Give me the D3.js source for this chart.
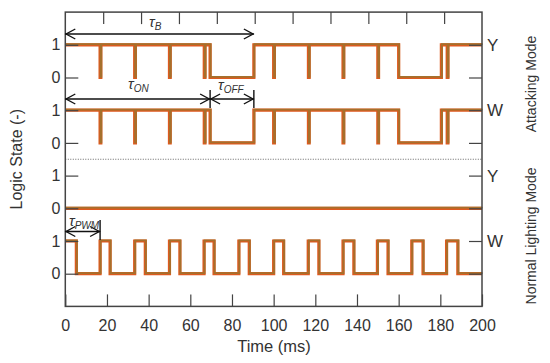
<!DOCTYPE html>
<html>
<head>
<meta charset="utf-8">
<script src="https://cdn.jsdelivr.net/npm/d3@7"></script>
<style>
  html, body { margin: 0; padding: 0; background: #fff; }
  svg { display: block; font-family: "Liberation Sans", Arial, sans-serif; }
</style>
</head>
<body>
<svg id="chart" width="550" height="363"></svg>
<script>
// ---------- data ----------
const timeTicks = [0, 20, 40, 60, 80, 100, 120, 140, 160, 180, 200];
const topTicks = [20, 40, 60, 80, 100, 120, 140, 160, 180, 200];   // top frame ticks (11 divisions)
const leftLevels = [0, 1, 2, 3, 4, 5, 6, 7];
const leftLabels = ["0", "1", "0", "1", "0", "1", "0", "1"];
const rightLevels = [0, 1, 2, 3, 4, 5, 6, 7];
const rightLabels = ["", "W", "", "Y", "", "W", "", "Y"];

// Attacking mode: LED on intervals (ms) and short PWM dips (ms)
const attackOnIntervals = [[0, 69.5], [90.5, 160], [180.5, 200]];
const attackDips = [16.7, 33.3, 50, 66.7, 100, 116.7, 133.3, 150, 183.3];
const dipWidth = 0.35;

// Normal lighting mode: W PWM high intervals (ms), Y always off
const normalWHigh = [[0, 5.3], [16.7, 21.5], [33.3, 38.4], [50, 55], [66.6, 71.4], [83.3, 88.3],
                     [100, 104.8], [116.6, 121.7], [133.3, 138.5], [149.8, 154.9], [166.3, 171.7], [183, 188.4]];
const normalYHigh = [];

// ---------- layout ----------
const svg = d3.select("#chart");
const x = d3.scaleLinear().domain([0, 200]).range([65.3, 482]);
const xTop = d3.scaleLinear().domain([0, 220]).range([65.3, 482]);
const y = d3.scaleLinear().domain([-1, 8]).range([306.4, 12.1]);
const textColor = "#333";
const axisColor = "#444";

// ---------- signal builders ----------
function transitionsFrom(intervals, dips, base) {
  const tr = [];
  intervals.forEach(([a, b]) => { tr.push([a, 1]); if (b < 200) tr.push([b, 0]); });
  dips.forEach(t => { tr.push([t, 0]); tr.push([t + dipWidth, 1]); });
  tr.sort((p, q) => p[0] - q[0]);
  if (!tr.length || tr[0][0] > 0) tr.unshift([0, 0]);
  tr.push([200, tr[tr.length - 1][1]]);
  return tr.map(([t, v]) => [t, base + v]);
}

const signals = [
  transitionsFrom(attackOnIntervals, attackDips, 6),
  transitionsFrom(attackOnIntervals, attackDips, 4),
  transitionsFrom(normalYHigh, [], 2),
  transitionsFrom(normalWHigh, [], 0)
];

const line = d3.line().x(d => x(d[0])).y(d => y(d[1])).curve(d3.curveStepAfter);

// ---------- separator ----------
svg.append("line")
  .attr("x1", x(0)).attr("x2", x(200))
  .attr("y1", y(3.5)).attr("y2", y(3.5))
  .attr("stroke", "#666").attr("stroke-width", 1)
  .attr("stroke-dasharray", "1,1.5");

// ---------- signals ----------
const gSig = svg.append("g");
signals.forEach(s => {
  gSig.append("path").attr("d", line(s))
    .attr("fill", "none").attr("stroke", "#de5a1f").attr("stroke-width", 3.2)
    .attr("stroke-linejoin", "miter");
  gSig.append("path").attr("d", line(s))
    .attr("transform", "translate(0.5,-0.6)")
    .attr("fill", "none").attr("stroke", "#a5702c").attr("stroke-width", 1.8)
    .attr("stroke-linejoin", "miter");
});

// ---------- axes ----------
function styleAxis(g) {
  g.select(".domain").remove();
  g.selectAll(".tick line").attr("stroke", axisColor).attr("stroke-width", 1.2);
  g.selectAll(".tick text").attr("fill", textColor).style("font-size", "16px");
}

svg.append("g").attr("transform", `translate(0,${y(-1)})`)
  .call(d3.axisBottom(x).tickValues(timeTicks).tickSizeInner(-12).tickSizeOuter(0).tickPadding(13))
  .call(styleAxis)
  .call(g => g.selectAll(".tick text").attr("dy", "0.71em"));

svg.append("g").attr("transform", `translate(0,${y(8)})`)
  .call(d3.axisTop(xTop).tickValues(topTicks).tickSizeInner(-12).tickSizeOuter(0).tickFormat(""))
  .call(styleAxis);

svg.append("g").attr("transform", `translate(${x(0)},0)`)
  .call(d3.axisLeft(y).tickValues(leftLevels).tickSizeInner(-13).tickSizeOuter(0).tickPadding(5)
    .tickFormat((d, i) => leftLabels[i]))
  .call(styleAxis);

svg.append("g").attr("transform", `translate(${x(200)},0)`)
  .call(d3.axisRight(y).tickValues(rightLevels).tickSizeInner(-13).tickSizeOuter(0).tickPadding(5)
    .tickFormat((d, i) => rightLabels[i]))
  .call(styleAxis)
  .call(g => g.selectAll(".tick text").style("font-size", "17px"));

// frame
svg.append("rect")
  .attr("x", x(0)).attr("y", y(8))
  .attr("width", x(200) - x(0)).attr("height", y(-1) - y(8))
  .attr("fill", "none").attr("stroke", axisColor).attr("stroke-width", 1.5);

// ---------- axis titles ----------
svg.append("text").attr("x", 274).attr("y", 352).attr("text-anchor", "middle")
  .attr("fill", textColor).style("font-size", "16.5px").text("Time (ms)");

svg.append("text").attr("transform", `translate(22,${y(3.5)}) rotate(-90)`)
  .attr("text-anchor", "middle").attr("fill", textColor).style("font-size", "16px")
  .text("Logic State (-)");

svg.append("text").attr("transform", `translate(536,84) rotate(-90)`)
  .attr("text-anchor", "middle").attr("fill", textColor).style("font-size", "14px")
  .text("Attacking Mode");

svg.append("text").attr("transform", `translate(536,236) rotate(-90)`)
  .attr("text-anchor", "middle").attr("fill", textColor).style("font-size", "14px")
  .text("Normal Lighting Mode");

// ---------- annotations ----------
const ann = svg.append("g").attr("stroke", "#111").attr("stroke-width", 1.4).attr("fill", "none");

function arrow(t0, t1, py) {
  const x0 = x(t0), x1 = x(t1);
  ann.append("line").attr("x1", x0).attr("x2", x1).attr("y1", py).attr("y2", py);
  ann.append("path").attr("d", `M${x0 + 10},${py - 5}L${x0 + 0.8},${py}L${x0 + 10},${py + 5}`);
  ann.append("path").attr("d", `M${x1 - 10},${py - 5}L${x1 - 0.8},${py}L${x1 - 10},${py + 5}`);
}
function vline(t, ya, yb) {
  ann.append("line").attr("x1", x(t)).attr("x2", x(t)).attr("y1", ya).attr("y2", yb);
}
function tauLabel(px, py, sub) {
  const t = svg.append("text").attr("x", px).attr("y", py).attr("fill", textColor)
    .style("font-style", "italic").style("font-size", "15px");
  t.append("tspan").text("τ");
  t.append("tspan").attr("dy", 3).style("font-size", "10px").text(sub);
}

// tau_B
arrow(0, 90.5, 34);
tauLabel(149, 27, "B");
// tau_ON and tau_OFF
arrow(0, 69.5, 99);
arrow(69.5, 90.5, 99);
vline(69.5, 90, 108);
vline(90.5, 90, 108);
tauLabel(128, 89, "ON");
tauLabel(218, 90, "OFF");
// tau_PWM
arrow(0, 16.7, 231.5);
vline(16.7, 220, 240);
tauLabel(69, 226, "PWM");
</script>
</body>
</html>
